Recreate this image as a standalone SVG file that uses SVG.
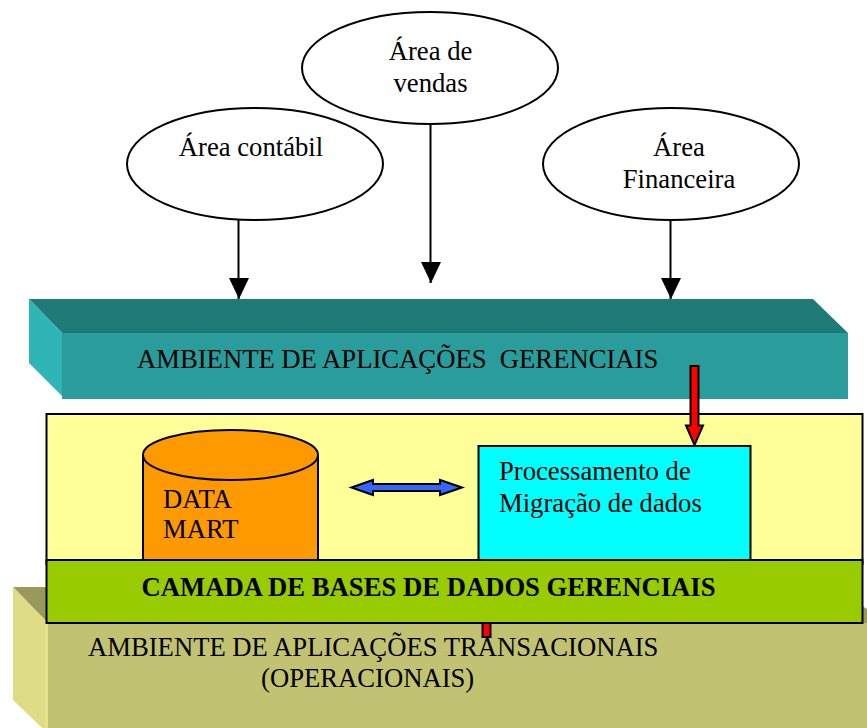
<svg xmlns="http://www.w3.org/2000/svg" width="867" height="728" viewBox="0 0 867 728">
<style>
text{font-family:"Liberation Serif","Times New Roman",serif;font-size:26.67px;fill:#000;white-space:pre}
.c{text-anchor:middle}
.s{stroke:#000;stroke-width:2}
.e{fill:#fff;stroke:#000;stroke-width:2}
.l{fill:none;stroke:#000;stroke-width:2}
</style>
<defs>
<marker id="h" markerUnits="userSpaceOnUse" markerWidth="22" markerHeight="22" refX="21" refY="11" orient="auto"><path d="M0 0.5L21 10.5L0 20.5Z" fill="#000"/></marker>
</defs>
<rect width="867" height="728" fill="#fff"/>
<g id="ambiente-transacional">
<path d="M13 587H60V640L47 622Z" fill="#99995c"/>
<path d="M13 587L47 622V728H42L13 700Z" fill="#dedd85"/>
<path d="M47 622H867V728H47Z" fill="#c2c273"/>
<path d="M862 606L867 609V623H860Z" fill="#99995c"/>
<path d="M45 622H48V728H45Z" fill="#e4e38b"/>
<text x="88" y="656">AMBIENTE DE APLICAÇÕES TRANSACIONAIS</text>
<text x="261" y="687">(OPERACIONAIS)</text>
</g>
<g id="ambiente-gerencial">
<path d="M29 299H813L848 333H62Z" fill="#1f7a78"/>
<path d="M29 299L62 333V396L29 363Z" fill="#2fb5b5"/>
<rect x="62" y="333" width="786" height="66" fill="#2a9c9c"/>
<text x="137" y="368">AMBIENTE DE APLICAÇÕES  GERENCIAIS</text>
</g>
<g id="camada-gerencial">
<rect class="s" x="46.500" y="414" width="816" height="150" fill="#ffff99"/>
</g>
<g id="data-mart">
<path class="s" d="M143 455V562H318V455" fill="#ff9900"/>
<ellipse class="s" cx="230.500" cy="455" rx="87.500" ry="25" fill="#ff9900"/>
<text x="163" y="508">DATA</text>
<text x="163" y="538">MART</text>
</g>
<g id="processamento">
<rect class="s" x="478.500" y="446" width="272" height="116" fill="#00ffff"/>
<text x="499" y="480">Processamento de</text>
<text x="499" y="512">Migração de dados</text>
</g>
<g id="connectors">
<line class="l" x1="238.500" y1="220" x2="238.500" y2="299" marker-end="url(#h)"/>
<line class="l" x1="430.500" y1="124" x2="430.500" y2="283" marker-end="url(#h)"/>
<line class="l" x1="670.500" y1="220" x2="670.500" y2="299" marker-end="url(#h)"/>
<path class="s" d="M690.500 366H698.500V425.500H703L694.500 445L686 425.500H690.500Z" fill="#ff0000"/>
<path class="s" d="M351.500 487.500L373 480V484H440V480L462 487.500L440 495V491H373V495Z" fill="#3366ff"/>
<rect class="s" x="482.500" y="620" width="8" height="17" fill="#ff0000"/>
</g>
<g id="camada-base">
<rect class="s" x="46.500" y="560" width="816" height="63" fill="#99cc00"/>
<text class="c" x="428.500" y="596" font-weight="bold">CAMADA DE BASES DE DADOS GERENCIAIS</text>
</g>
<g id="area-vendas">
<ellipse class="e" cx="430" cy="68" rx="128" ry="56"/>
<text class="c" x="430.500" y="60">Área de</text>
<text class="c" x="430.500" y="92">vendas</text>
</g>
<g id="area-contabil">
<ellipse class="e" cx="255" cy="164" rx="128" ry="56"/>
<text class="c" x="251" y="156">Área contábil</text>
</g>
<g id="area-financeira">
<ellipse class="e" cx="671" cy="164" rx="128" ry="56"/>
<text class="c" x="679" y="156">Área</text>
<text class="c" x="679" y="188">Financeira</text>
</g>
</svg>
